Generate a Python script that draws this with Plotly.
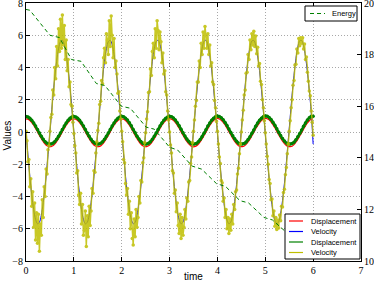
import plotly.graph_objects as go

# ---------------- data ----------------
# smooth series sampled every 0.04 s
t_smooth = [round(i * 0.04, 2) for i in range(151)]

displacement_red = [
    0.82, 0.79, 0.71, 0.58, 0.42, 0.22, 0.00, -0.21, -0.42, -0.60, -0.75, -0.86, -0.91,
    -0.91, -0.86, -0.75, -0.60, -0.42, -0.21, 0.00, 0.22, 0.42, 0.58, 0.71, 0.79,
    0.82, 0.79, 0.71, 0.58, 0.42, 0.22, 0.00, -0.21, -0.42, -0.60, -0.75, -0.86, -0.91,
    -0.91, -0.86, -0.75, -0.60, -0.42, -0.21, 0.00, 0.22, 0.42, 0.58, 0.71, 0.79,
    0.82, 0.79, 0.71, 0.58, 0.42, 0.22, 0.00, -0.21, -0.42, -0.60, -0.75, -0.86, -0.91,
    -0.91, -0.86, -0.75, -0.60, -0.42, -0.21, 0.00, 0.22, 0.42, 0.58, 0.71, 0.79,
    0.83, 0.80, 0.72, 0.59, 0.43, 0.23, 0.01, -0.20, -0.41, -0.59, -0.74, -0.85, -0.91,
    -0.91, -0.86, -0.76, -0.61, -0.43, -0.22, -0.01, 0.21, 0.41, 0.58, 0.71, 0.79,
    0.84, 0.81, 0.73, 0.60, 0.44, 0.24, 0.02, -0.19, -0.40, -0.58, -0.73, -0.85, -0.90,
    -0.91, -0.87, -0.77, -0.62, -0.44, -0.23, -0.02, 0.20, 0.40, 0.57, 0.71, 0.79,
    0.84, 0.82, 0.75, 0.62, 0.46, 0.26, 0.04, -0.17, -0.38, -0.57, -0.72, -0.84, -0.90,
    -0.91, -0.88, -0.78, -0.63, -0.46, -0.25, -0.04, 0.18, 0.38, 0.56, 0.70, 0.79,
    0.82,
]

displacement_green = [
    0.96, 0.93, 0.85, 0.73, 0.56, 0.37, 0.15, -0.06, -0.27, -0.45, -0.60, -0.70, -0.75,
    -0.75, -0.70, -0.60, -0.45, -0.27, -0.06, 0.15, 0.37, 0.56, 0.73, 0.85, 0.93,
    0.96, 0.93, 0.85, 0.73, 0.56, 0.37, 0.15, -0.06, -0.27, -0.45, -0.60, -0.70, -0.75,
    -0.75, -0.70, -0.60, -0.45, -0.27, -0.06, 0.15, 0.37, 0.56, 0.73, 0.85, 0.93,
    0.97, 0.94, 0.86, 0.74, 0.57, 0.38, 0.16, -0.05, -0.26, -0.44, -0.59, -0.70, -0.75,
    -0.75, -0.70, -0.60, -0.45, -0.27, -0.06, 0.15, 0.37, 0.56, 0.73, 0.85, 0.93,
    0.98, 0.95, 0.87, 0.75, 0.58, 0.39, 0.17, -0.04, -0.25, -0.43, -0.58, -0.69, -0.75,
    -0.75, -0.71, -0.61, -0.46, -0.28, -0.07, 0.14, 0.37, 0.56, 0.73, 0.85, 0.94,
    0.99, 0.96, 0.88, 0.76, 0.59, 0.40, 0.18, -0.03, -0.24, -0.42, -0.57, -0.69, -0.74,
    -0.75, -0.71, -0.62, -0.47, -0.29, -0.08, 0.13, 0.36, 0.56, 0.73, 0.86, 0.95,
    1.00, 0.98, 0.90, 0.78, 0.61, 0.42, 0.20, -0.01, -0.22, -0.41, -0.56, -0.68, -0.74,
    -0.75, -0.72, -0.63, -0.48, -0.30, -0.09, 0.12, 0.35, 0.56, 0.74, 0.88, 0.97,
    0.98,
]

velocity_blue = [
    0.00, -1.42, -2.75, -3.90, -4.81, -5.42, -5.69, -5.60, -5.16, -4.39, -3.35, -2.10, -0.71,
    0.71, 2.10, 3.35, 4.39, 5.16, 5.60, 5.69, 5.42, 4.81, 3.90, 2.75, 1.42,
    0.00, -1.42, -2.75, -3.90, -4.81, -5.42, -5.69, -5.60, -5.16, -4.39, -3.35, -2.10, -0.71,
    0.71, 2.10, 3.35, 4.39, 5.16, 5.60, 5.69, 5.42, 4.81, 3.90, 2.75, 1.42,
    0.00, -1.42, -2.75, -3.90, -4.81, -5.42, -5.69, -5.60, -5.16, -4.39, -3.35, -2.10, -0.71,
    0.71, 2.10, 3.35, 4.39, 5.16, 5.60, 5.69, 5.42, 4.81, 3.90, 2.75, 1.42,
    -0.05, -1.47, -2.80, -3.94, -4.84, -5.44, -5.69, -5.59, -5.13, -4.35, -3.30, -2.04, -0.65,
    0.77, 2.16, 3.40, 4.44, 5.19, 5.62, 5.69, 5.40, 4.77, 3.85, 2.69, 1.36,
    -0.08, -1.52, -2.85, -3.98, -4.87, -5.46, -5.69, -5.58, -5.10, -4.31, -3.25, -1.98, -0.58,
    0.84, 2.22, 3.46, 4.49, 5.23, 5.64, 5.68, 5.38, 4.73, 3.80, 2.63, 1.30,
    -0.14, -1.58, -2.90, -4.03, -4.91, -5.48, -5.70, -5.56, -5.06, -4.26, -3.18, -1.91, -0.51,
    0.91, 2.29, 3.52, 4.54, 5.26, 5.66, 5.67, 5.35, 4.68, 3.74, 2.56, 1.22,
    -0.75,
]

# noisy velocity sampled every 0.02 s
t_noisy = [round(i * 0.02, 2) for i in range(301)]

velocity_yellow = [
    0.05, -0.55, -1.85, -1.70, -3.40, -2.90, -4.60, -3.70, -5.90, -4.40,
    -6.70, -5.00, -6.90, -5.10, -7.40, -5.70, -6.40, -4.20, -5.30, -3.40,
    -4.00, -2.30, -2.60, -1.10, -0.85, 0.05, 0.90, 1.10, 2.60, 2.30,
    4.00, 3.30, 5.30, 4.10, 6.40, 5.00, 7.00, 5.20, 7.25, 5.40,
    6.60, 4.50, 5.70, 3.80, 4.50, 2.80, 3.10, 1.70, 1.60, 0.60,
    -0.10, -0.85, -1.30, -2.55, -2.40, -3.90, -4.50, -3.80, -5.70, -4.50,
    -6.40, -6.10, -4.90, -7.10, -5.20, -6.50, -4.60, -5.80, -4.90, -3.50,
    -3.80, -2.40, -2.50, -1.30, -0.60, 0.10, 0.55, 1.70, 1.90, 3.20,
    3.00, 4.60, 5.20, 4.30, 6.10, 5.70, 4.80, 6.90, 5.30, 7.20,
    6.00, 4.60, 5.80, 4.00, 4.40, 3.60, 2.40, 2.50, 1.30, 0.80,
    0.05, -0.60, -1.70, -1.90, -3.20, -3.90, -3.50, -5.10, -4.30, -6.00,
    -5.00, -6.60, -7.00, -5.40, -6.50, -4.80, -5.90, -5.30, -4.00, -4.40,
    -3.00, -3.10, -1.90, -1.60, -0.65, -0.05, 0.80, 1.25, 2.45, 2.50,
    3.90, 3.50, 5.00, 5.50, 4.60, 6.40, 5.20, 6.90, 6.30, 5.10,
    6.20, 5.60, 4.30, 4.90, 3.60, 3.80, 2.50, 2.30, 1.30, 0.75,
    0.00, -0.80, -1.30, -2.40, -2.55, -3.80, -3.60, -4.95, -4.40, -5.80,
    -6.30, -5.10, -6.60, -5.30, -6.40, -5.90, -4.80, -5.40, -4.10, -4.30,
    -3.10, -3.00, -1.95, -1.55, -0.65, 0.05, 0.75, 1.60, 1.95, 3.10,
    3.10, 4.40, 4.00, 5.50, 4.80, 6.20, 5.20, 6.55, 6.00, 5.20,
    6.10, 4.80, 5.40, 4.10, 4.30, 3.10, 2.95, 1.95, 1.50, 0.65,
    0.05, -0.75, -1.55, -1.95, -3.00, -3.15, -4.30, -4.10, -5.30, -4.80,
    -6.00, -5.30, -6.30, -5.40, -6.10, -5.10, -5.70, -4.50, -4.80, -3.70,
    -3.60, -2.60, -2.25, -1.35, -0.75, 0.00, 0.75, 1.35, 2.30, 2.60,
    3.65, 3.70, 4.80, 4.50, 5.70, 5.10, 6.10, 5.40, 6.25, 5.30,
    5.95, 4.85, 5.25, 4.10, 4.25, 3.15, 2.95, 2.00, 1.50, 0.70,
    -0.05, -0.75, -1.50, -2.00, -2.95, -3.20, -4.20, -4.15, -5.20, -4.90,
    -5.85, -5.30, -6.05, -5.45, -5.95, -5.15, -5.50, -4.60, -4.65, -3.75,
    -3.55, -2.65, -2.20, -1.35, -0.75, 0.05, 0.70, 1.50, 2.00, 2.90,
    3.20, 4.15, 4.20, 5.15, 4.90, 5.80, 5.35, 5.85, 5.50, 5.85,
    5.15, 5.45, 4.50, 4.65, 3.70, 3.15, 2.55, 2.25, 1.30, 0.60,
    -0.20,
]

# energy (right axis)
t_energy = [0.00, 0.08, 0.50, 0.70, 0.95, 1.15, 1.47, 1.65, 1.99, 2.18, 2.51, 2.68,
            3.00, 3.17, 3.47, 3.67, 3.98, 4.17, 4.47, 4.65, 4.97, 5.15, 5.47, 5.65, 6.00]
energy = [19.75, 19.72, 18.75, 18.66, 17.81, 17.74, 16.88, 16.80, 16.00, 15.92, 15.19, 15.11,
          14.41, 14.30, 13.68, 13.56, 13.00, 12.89, 12.34, 12.25, 11.69, 11.59, 11.06, 10.97, 10.38]

x_ticks = [0, 1, 2, 3, 4, 5, 6, 7]
y_ticks = [-8, -6, -4, -2, 0, 2, 4, 6, 8]
y_tick_text = ["\u22128", "\u22126", "\u22124", "\u22122", "0", "2", "4", "6", "8"]
y2_ticks = [10, 12, 14, 16, 18, 20]

legend_main_labels = ["Displacement", "Velocity", "Displacement", "Velocity"]
legend_energy_label = "Energy"

# ---------------- styling / layout ----------------
RED = "#ff0000"
BLUE = "#0000ff"
GREEN = "#008000"
YELLOW = "#bfbf00"
GRID = "#a8a8a8"

W, H = 374, 284
ML, MR, MT, MB = 26, 13, 3, 23
PW, PH = W - ML - MR, H - MT - MB


def px(xp):
    return (xp - ML) / PW


def py(yp):
    return (H - MB - yp) / PH


fig = go.Figure()

fig.add_trace(go.Scatter(x=t_smooth, y=displacement_red, name=legend_main_labels[0], mode="lines",
                         line=dict(color=RED, width=1.2, shape="spline")))
fig.add_trace(go.Scatter(x=t_smooth, y=velocity_blue, name=legend_main_labels[1], mode="lines",
                         line=dict(color=BLUE, width=1, shape="spline")))
fig.add_trace(go.Scatter(x=t_smooth, y=displacement_green, name=legend_main_labels[2],
                         mode="lines+markers",
                         line=dict(color=GREEN, width=2.5, shape="spline"),
                         marker=dict(color=GREEN, size=3.5)))
fig.add_trace(go.Scatter(x=t_noisy, y=velocity_yellow, name=legend_main_labels[3],
                         mode="lines+markers",
                         line=dict(color=YELLOW, width=1.5),
                         marker=dict(color=YELLOW, size=3.5), opacity=0.85))
fig.add_trace(go.Scatter(x=t_energy, y=energy, name=legend_energy_label, mode="lines", yaxis="y2",
                         line=dict(color=GREEN, width=1, dash="4px,3px")))

tick_font = dict(family="Liberation Serif, DejaVu Serif, serif", size=10, color="#000")
title_font = dict(family="Liberation Sans, DejaVu Sans, sans-serif", size=10, color="#000")
legend_font = dict(family="Liberation Sans, DejaVu Sans, sans-serif", size=7.5, color="#000")

shapes = []
annotations = []

# energy legend (top right)
shapes.append(dict(type="rect", xref="paper", yref="paper", layer="above",
                   x0=px(305), x1=px(357), y0=py(21), y1=py(6),
                   fillcolor="white", line=dict(color="#000", width=1)))
shapes.append(dict(type="line", xref="paper", yref="paper", layer="above",
                   x0=px(310), x1=px(325), y0=py(13.5), y1=py(13.5),
                   line=dict(color=GREEN, width=1.2, dash="4px,3px")))
annotations.append(dict(text=legend_energy_label, xref="paper", yref="paper",
                        x=px(330), y=py(13.5), xanchor="left", yanchor="middle",
                        showarrow=False, font=legend_font))

# main legend (bottom right)
shapes.append(dict(type="rect", xref="paper", yref="paper", layer="above",
                   x0=px(285), x1=px(360), y0=py(259), y1=py(214),
                   fillcolor="white", line=dict(color="#000", width=1)))
row_y = [221, 231.5, 242, 252.5]
row_colors = [RED, BLUE, GREEN, YELLOW]
for yy, col, lab in zip(row_y, row_colors, legend_main_labels):
    shapes.append(dict(type="line", xref="paper", yref="paper", layer="above",
                       x0=px(289), x1=px(303), y0=py(yy), y1=py(yy),
                       line=dict(color=col, width=1.2)))
    annotations.append(dict(text=lab, xref="paper", yref="paper",
                            x=px(309), y=py(yy), xanchor="left", yanchor="middle",
                            showarrow=False, font=legend_font))

# axis titles
annotations.append(dict(text="time", xref="paper", yref="paper", x=px(193), y=py(276.5),
                        xanchor="center", yanchor="middle", showarrow=False, font=title_font))
annotations.append(dict(text="Values", xref="paper", yref="paper", x=px(6.5), y=py(136),
                        xanchor="center", yanchor="middle", textangle=-90,
                        showarrow=False, font=title_font))

fig.update_layout(
    width=W, height=H,
    margin=dict(l=ML, r=MR, t=MT, b=MB),
    paper_bgcolor="white", plot_bgcolor="white",
    showlegend=False,
    xaxis=dict(range=[0, 7], tickvals=x_ticks, ticks="inside", ticklen=4, tickcolor="#000",
               showline=True, linecolor="#000", linewidth=1, mirror="ticks",
               showgrid=True, gridcolor=GRID, griddash="1px,2px", gridwidth=1,
               zeroline=False, tickfont=tick_font, automargin=False,
               ticklabeloverflow="allow"),
    yaxis=dict(range=[-8, 8], tickvals=y_ticks, ticktext=y_tick_text, ticks="inside", ticklen=4,
               tickcolor="#000", showline=True, linecolor="#000", linewidth=1, mirror=True,
               showgrid=True, gridcolor=GRID, griddash="1px,2px", gridwidth=1,
               zeroline=False, tickfont=tick_font, automargin=False,
               ticklabeloverflow="allow"),
    yaxis2=dict(range=[10, 20], tickvals=y2_ticks, overlaying="y", side="right",
                ticks="inside", ticklen=4, tickcolor="#000", showline=True, linecolor="#000",
                showgrid=False, zeroline=False, tickfont=tick_font, automargin=False,
                ticklabeloverflow="allow"),
    shapes=shapes,
    annotations=annotations,
)

fig.write_html("out.html", config={"displayModeBar": False},
               post_script="document.body.style.margin='0';document.body.style.overflow='hidden';")
